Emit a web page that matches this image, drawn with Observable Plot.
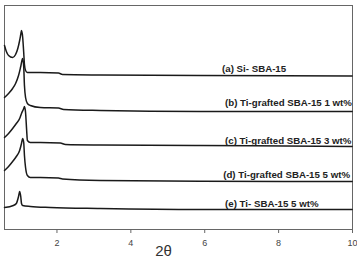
<!DOCTYPE html>
<html>
<head>
<meta charset="utf-8">
<script src="https://cdn.jsdelivr.net/npm/d3@7"></script>
<script src="https://cdn.jsdelivr.net/npm/@observablehq/plot@0.6"></script>
<style>
  html, body { margin: 0; padding: 0; background: #fff; }
</style>
</head>
<body>
<div id="chart"></div>
<script>
// Series (theta = 2θ in degrees, intensity in arbitrary stacked units)
const thetaA = [0.58,0.63,0.69,0.80,0.88,0.94,0.99,1.02,1.04,1.07,1.10,1.12,1.15,1.20,1.55,2.04,2.15,3.17,5.88,9.99];
const intensityA = [184,178,174,172,175,181,189,195,199,193,177,165,159,157,157,156.5,155,154.5,154,153.5];

const thetaB = [0.58,0.69,0.80,0.88,0.96,1.02,1.07,1.10,1.12,1.15,1.20,1.28,1.55,2.04,2.18,3.17,5.88,9.99];
const intensityB = [132,136,141,146,154,163,171,163,144,132,126,124,122,121.5,120,119,118,118];

const thetaC = [0.58,0.69,0.80,0.90,0.99,1.04,1.10,1.12,1.15,1.18,1.20,1.28,1.55,2.09,2.23,3.17,5.88,9.99];
const intensityC = [92,96,101,106,111,116,121,123,117,99,89,87,87,86.5,85,84.5,84,83];

const thetaD = [0.58,0.69,0.80,0.90,0.99,1.04,1.07,1.10,1.12,1.15,1.20,1.28,1.55,2.04,2.15,3.17,5.88,9.99];
const intensityD = [59,63,68,73,79,86,91,87,74,62,54,52,52,51.5,50.5,49,48.3,48];

const thetaE = [0.58,0.82,0.90,0.96,0.99,1.02,1.04,1.07,1.28,1.82,3.17,5.88,9.99];
const intensityE = [22,24,26,33,38,33,26,24,23,22,21,20,20];

const seriesNames = ["a","b","c","d","e"];
const labels = ["(a) Si- SBA-15","(b) Ti-grafted SBA-15 1 wt%","(c) Ti-grafted SBA-15 3 wt%","(d) Ti-grafted SBA-15 5 wt%","(e) Ti- SBA-15 5 wt%"];
const labelTheta = [6.47,6.55,6.55,6.50,6.55];
const labelIntensity = [161,127,89,55,26];

const xTicks = [2,4,6,8,10];
const xLabel = "2θ";

const thetas = [thetaA, thetaB, thetaC, thetaD, thetaE];
const intens = [intensityA, intensityB, intensityC, intensityD, intensityE];
const rows = [];
seriesNames.forEach((s, i) => {
  thetas[i].forEach((t, j) => rows.push({series: s, theta: t, intensity: intens[i][j]}));
});
const labelRows = labels.map((l, i) => ({text: l, theta: labelTheta[i], intensity: labelIntensity[i]}));

const chart = Plot.plot({
  width: 357,
  height: 265,
  marginLeft: 4,
  marginRight: 5,
  marginTop: 5,
  marginBottom: 36,
  style: {fontFamily: "'Liberation Sans', Arial, sans-serif", background: "#fff"},
  x: {domain: [0.58, 10]},
  y: {domain: [0, 224], axis: null},
  marks: [
    Plot.frame({stroke: "#666", strokeWidth: 1}),
    Plot.axisX({ticks: xTicks, tickSize: 4, tickPadding: 6, fontSize: 9, color: "#444", stroke: "#666", label: null}),
    Plot.line(rows, {x: "theta", y: "intensity", z: "series", stroke: "#1a1a1a", strokeWidth: 1.5, curve: "monotone-x"}),
    Plot.text(labelRows, {x: "theta", y: "intensity", text: "text", textAnchor: "start", fontWeight: "bold", fontSize: 9.7, fill: "#222"}),
    Plot.text([xLabel], {frameAnchor: "bottom", dx: -15, dy: 26, fontSize: 15, fill: "#333"})
  ]
});
document.getElementById("chart").appendChild(chart);
</script>
</body>
</html>
